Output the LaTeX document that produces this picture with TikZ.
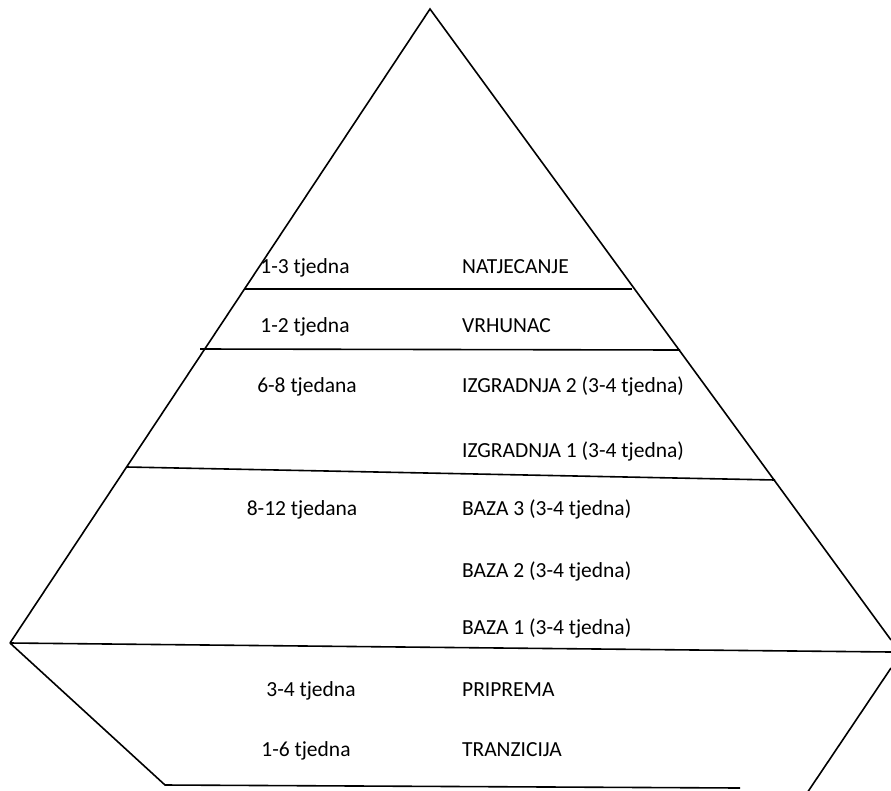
\documentclass[tikz,border=0pt]{standalone}
\usepackage{fontspec}
\setmainfont{Carlito}
\tikzset{
  weeks/.style={anchor=base},
  phase/.style={anchor=base west}
}
\begin{document}
\begin{tikzpicture}[x=1pt,y=-1pt,line width=1.6pt,font=\fontsize{21.5}{25}\selectfont]
            \useasboundingbox (0,0) rectangle (891,790);
            \clip (0,0) rectangle (891,790);
            \coordinate (apex) at (430,9);
            \coordinate (baseL) at (10,643);
            \coordinate (baseR) at (891,652);
            \coordinate (sideR) at (891,640);
            \coordinate (lowL) at (165,785);
            \coordinate (lowM) at (740,788);
            \coordinate (lowR1) at (891,668);
            \coordinate (lowR2) at (803,799);
            \draw (baseL)--(apex)--(sideR);
            \draw (baseL)--(baseR);
            \draw (baseL)--(lowL)--(lowM);
            \draw (lowR1)--(lowR2);
            \draw (245,289)--(632,289);
            \draw (200,349)--(680,350);
            \draw (127,467)--(775,480);
            \node [weeks] (w1) at (305,273.5) {1-3 tjedna};
            \node [phase] (p1) at (458,273.5) {NATJECANJE};
            \node [weeks] (w2) at (305,332.5) {1-2 tjedna};
            \node [phase] (p2) at (458,332.5) {VRHUNAC};
            \node [weeks] (w3) at (307,392.5) {6-8 tjedana};
            \node [phase] (p3) at (458,392.5) {IZGRADNJA 2 (3-4 tjedna)};
            \node [phase] (p4) at (458,457.5) {IZGRADNJA 1 (3-4 tjedna)};
            \node [weeks] (w4) at (302,515.5) {8-12 tjedana};
            \node [phase] (p5) at (458,515.5) {BAZA 3 (3-4 tjedna)};
            \node [phase] (p6) at (458,577.5) {BAZA 2 (3-4 tjedna)};
            \node [phase] (p7) at (458,634.5) {BAZA 1 (3-4 tjedna)};
            \node [weeks] (w5) at (311,696.5) {3-4 tjedna};
            \node [phase] (p8) at (458,696.5) {PRIPREMA};
            \node [weeks] (w6) at (306,756.5) {1-6 tjedna};
            \node [phase] (p9) at (458,756.5) {TRANZICIJA};
        \end{tikzpicture}
\end{document}
